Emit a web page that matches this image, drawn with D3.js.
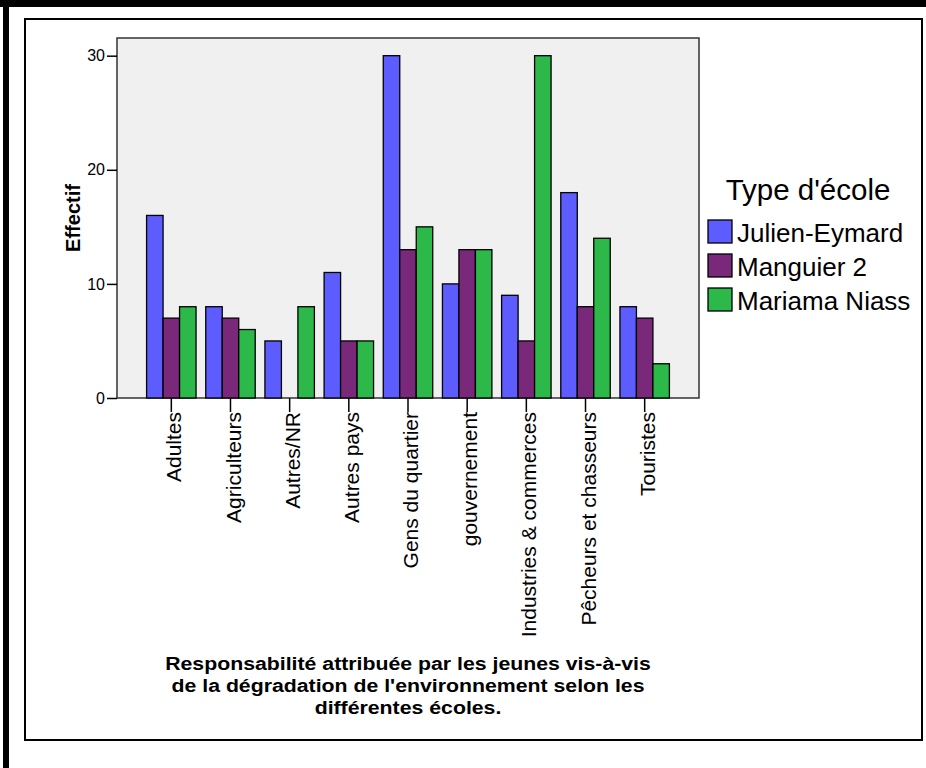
<!DOCTYPE html>
<html>
<head>
<meta charset="utf-8">
<script src="https://cdn.jsdelivr.net/npm/d3@7"></script>
<style>
  body { margin: 0; background: #fff; }
  text { font-family: Arial, "Liberation Sans", sans-serif; }
</style>
</head>
<body>
<svg id="chart" width="926" height="768"></svg>
<script>
const categories = ["Adultes", "Agriculteurs", "Autres/NR", "Autres pays", "Gens du quartier",
  "gouvernement", "Industries & commerces", "Pêcheurs et chasseurs", "Touristes"];
const schools = ["Julien-Eymard", "Manguier 2", "Mariama Niass"];
const julienEymard = [16, 8, 5, 11, 30, 10, 9, 18, 8];
const manguier2 = [7, 7, 0, 5, 13, 13, 5, 8, 7];
const mariamaNiass = [8, 6, 8, 5, 15, 13, 30, 14, 3];
const yTicks = [0, 10, 20, 30];
const titleLines = ["Responsabilité attribuée par les jeunes vis-à-vis",
  "de la dégradation de l'environnement selon les",
  "différentes écoles."];

const seriesValues = [julienEymard, manguier2, mariamaNiass];
const colors = ["#5c5cff", "#7a297a", "#2db84a"];

const plot = { left: 117, top: 38, right: 699, bottom: 398 };

const svg = d3.select("#chart");

// outer frame
svg.append("rect").attr("x", 0).attr("y", 0).attr("width", 926).attr("height", 7).attr("fill", "#000");
svg.append("rect").attr("x", 3).attr("y", 0).attr("width", 6).attr("height", 768).attr("fill", "#000");
svg.append("rect")
  .attr("x", 25).attr("y", 19).attr("width", 897).attr("height", 721)
  .attr("fill", "none").attr("stroke", "#000").attr("stroke-width", 2);

const x = d3.scaleBand()
  .domain(categories)
  .range([plot.left, plot.right])
  .paddingInner(0.164)
  .paddingOuter(0.5);

const xs = d3.scaleBand()
  .domain(schools)
  .range([0, x.bandwidth()]);

const y = d3.scaleLinear()
  .domain([0, 31.55])
  .range([plot.bottom, plot.top]);

svg.append("rect")
  .attr("x", plot.left).attr("y", plot.top)
  .attr("width", plot.right - plot.left).attr("height", plot.bottom - plot.top)
  .attr("fill", "#f0f0f0").attr("stroke", "#333").attr("stroke-width", 1.5);

// bars
const groups = svg.append("g").selectAll("g")
  .data(categories)
  .join("g")
  .attr("transform", d => `translate(${x(d)},0)`);

groups.selectAll("rect")
  .data((d, i) => schools.map((s, j) => ({ school: s, value: seriesValues[j][i], j })).filter(e => e.value > 0))
  .join("rect")
  .attr("x", d => xs(d.school))
  .attr("y", d => y(d.value))
  .attr("width", xs.bandwidth())
  .attr("height", d => y(0) - y(d.value))
  .attr("fill", d => colors[d.j])
  .attr("stroke", "#000")
  .attr("stroke-width", 1.3);

// y axis
const yAxis = svg.append("g")
  .attr("transform", `translate(${plot.left},0)`)
  .call(d3.axisLeft(y).tickValues(yTicks).tickSize(10).tickPadding(2).tickFormat(d3.format("d")));
yAxis.select(".domain").remove();
yAxis.selectAll("line").attr("stroke", "#000").attr("stroke-width", 1.5);
yAxis.selectAll("text").style("font-size", "16px").attr("fill", "#000");

// x axis
const xAxis = svg.append("g")
  .attr("transform", `translate(0,${plot.bottom})`)
  .call(d3.axisBottom(x).tickSize(14).tickPadding(0));
xAxis.select(".domain").remove();
xAxis.selectAll("line").attr("stroke", "#000").attr("stroke-width", 1.5);
xAxis.selectAll("text")
  .style("font-size", "21px")
  .attr("fill", "#000")
  .attr("text-anchor", "end")
  .attr("transform", "rotate(-90)")
  .attr("x", -14)
  .attr("y", 0)
  .attr("dy", "0.48em");

// y label
svg.append("text")
  .attr("transform", `translate(80,${(plot.top + plot.bottom) / 2}) rotate(-90)`)
  .attr("text-anchor", "middle")
  .style("font-size", "20px")
  .style("font-weight", "bold")
  .text("Effectif");

// title below (slightly widened glyphs like the original render)
const cx = (plot.left + plot.right) / 2;
svg.append("g")
  .attr("transform", `translate(${cx},0) scale(1.12,1)`)
  .append("text")
  .attr("text-anchor", "middle")
  .style("font-size", "19px")
  .style("font-weight", "bold")
  .selectAll("tspan")
  .data(titleLines)
  .join("tspan")
  .attr("x", 0)
  .attr("y", (d, i) => 670 + i * 22)
  .text(d => d);

// legend
const legend = svg.append("g");
legend.append("text")
  .attr("x", 808).attr("y", 200)
  .attr("text-anchor", "middle")
  .style("font-size", "29.5px")
  .text("Type d'école");

const items = legend.selectAll("g.item")
  .data(schools)
  .join("g")
  .attr("class", "item")
  .attr("transform", (d, i) => `translate(708,${220 + i * 34})`);
items.append("rect")
  .attr("width", 24).attr("height", 23)
  .attr("fill", (d, i) => colors[i])
  .attr("stroke", "#000").attr("stroke-width", 1.3);
items.append("text")
  .attr("x", 29).attr("y", 22)
  .style("font-size", "26px")
  .text(d => d);
</script>
</body>
</html>
